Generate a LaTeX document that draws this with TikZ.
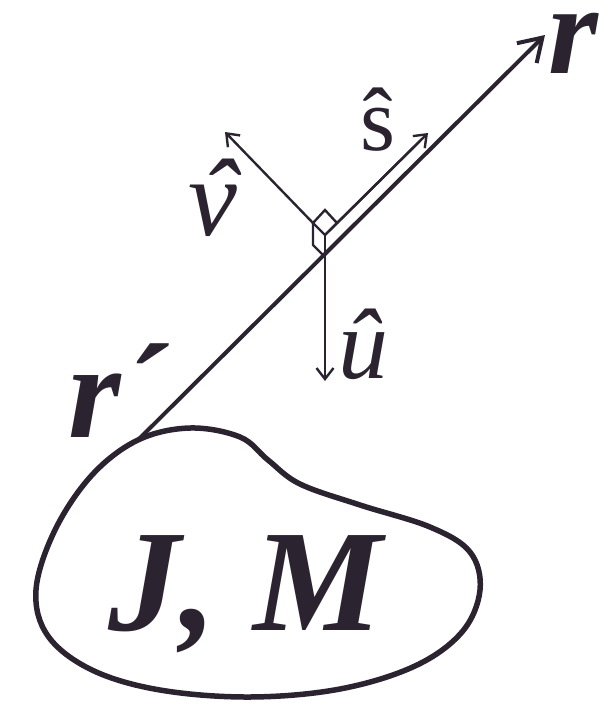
\documentclass[tikz,border=0pt]{standalone}
\usepackage{fontspec}
\setmainfont{Liberation Serif}
\usetikzlibrary{arrows.meta}
\definecolor{ink}{rgb}{0.17,0.14,0.19}
\newcommand\hatv{\ooalign{v\cr\hidewidth\kern0.12em\char"02C6\hidewidth\cr}}
\begin{document}
\begin{tikzpicture}[x=1pt,y=-1pt,
  mainline/.style={line width=4pt,draw=ink},
  vec/.style={line width=2.4pt,draw=ink,-{Straight Barb[length=11pt,width=17pt,line width=2.4pt]}},
  thin/.style={line width=2.4pt,draw=ink},
  lbl/.style={inner sep=0pt,text=ink},
  big/.style={lbl,font=\fontsize{135}{135}\selectfont\bfseries\itshape},
]
\useasboundingbox (0,0) rectangle (611,705);
% points
\coordinate (rp) at (138,440);
\coordinate (rt) at (545,35);
\coordinate (T) at (325,210);
\coordinate (L) at (313,223);
\coordinate (R) at (337,223);
\coordinate (B) at (325,235);
\coordinate (vt) at (225,132);
\coordinate (st) at (428,133);
\coordinate (s2) at (420,141);
\coordinate (ut) at (325,381);
\coordinate (La) at (313,245);
\coordinate (Lb) at (325,257);
% blob
\draw[line width=5.5pt,draw=ink] plot[smooth cycle,tension=0.6] coordinates {
 (138,440) (190,428) (240,437) (268,460) (300,484) (360,505) (430,527) (470,552)
 (480,590) (462,632) (415,666) (340,689) (250,697) (160,690) (92,670) (48,636)
 (36,590) (55,530) (92,475)};
% main line
\draw[mainline,-{Straight Barb[length=22pt,width=28pt,line width=4pt]}] (rp) -- (rt);
% right-angle marker
\draw[thin] (L) -- (T) -- (R) -- (B) -- cycle;
\draw[thin] (L) -- (La) -- (Lb);
% vectors
\draw[vec] (L) -- (vt);
\draw[vec] (R) -- (st);
\draw[thin] (B) -- (s2);
\draw[vec] (B) -- (ut);
% labels
\node[big,anchor=base west,font=\fontsize{128}{128}\selectfont\bfseries\itshape,text height=60pt,text depth=0pt] (rlab) at (548,73) {r};
\node[big,anchor=base west] (rplab) at (68,437) {r´};
\node[lbl,anchor=base west,font=\fontsize{90}{90}\selectfont] (slab) at (360,150) {ŝ};
\node[lbl,anchor=base west,font=\fontsize{110}{110}\selectfont\itshape] (vlab) at (188,235) {\hatv};
\node[lbl,anchor=base west,font=\fontsize{100}{100}\selectfont\itshape] (ulab) at (338,378) {û};
\node[lbl,anchor=base west,font=\fontsize{145}{145}\selectfont\bfseries\itshape] (jm) at (108,630) {J, M};
\end{tikzpicture}
\end{document}
